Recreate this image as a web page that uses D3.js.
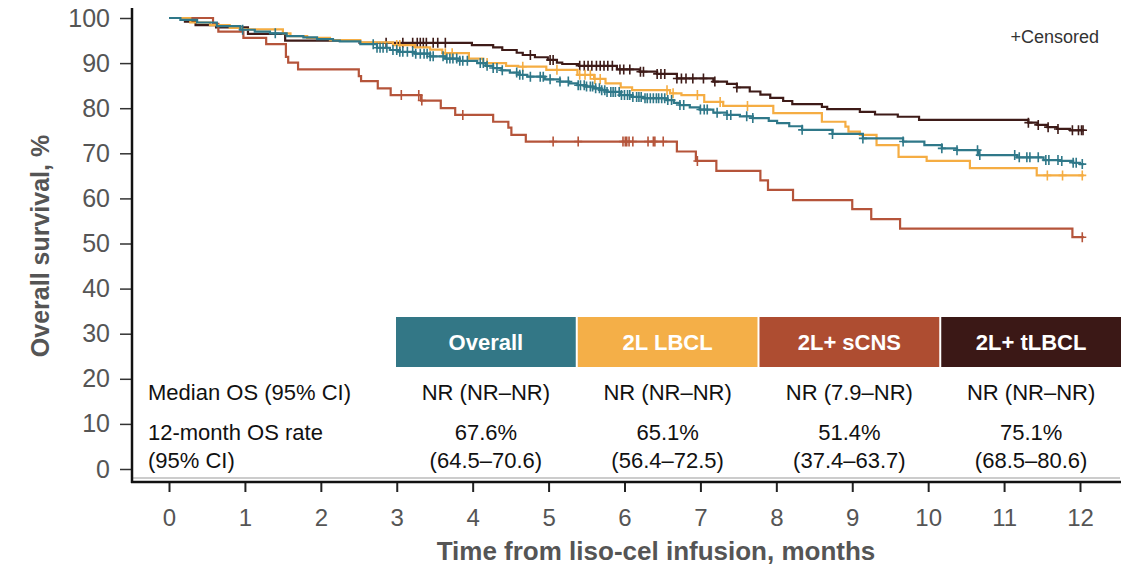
<!DOCTYPE html>
<html>
<head>
<meta charset="utf-8">
<script src="https://cdn.jsdelivr.net/npm/d3@7"></script>
<style>
  body { margin: 0; background: #fff; }
  svg { display: block; font-family: "Liberation Sans", Arial, sans-serif; }
</style>
</head>
<body>
<div id="chart"></div>
<script>
// axis ticks
const months = [0, 1, 2, 3, 4, 5, 6, 7, 8, 9, 10, 11, 12];
const yTicks = [0, 10, 20, 30, 40, 50, 60, 70, 80, 90, 100];

// table
const groups   = ["Overall", "2L LBCL", "2L+ sCNS", "2L+ tLBCL"];
const colors   = ["#337786", "#f4af48", "#ae4d31", "#3b1816"];
const lineCols = ["#2f7889", "#f5ad43", "#b5543a", "#3e1b18"];
const medianOS = ["NR (NR\u2013NR)", "NR (NR\u2013NR)", "NR (7.9\u2013NR)", "NR (NR\u2013NR)"];
const rate12   = ["67.6%", "65.1%", "51.4%", "75.1%"];
const rateCI   = ["(64.5\u201370.6)", "(56.4\u201372.5)", "(37.4\u201363.7)", "(68.5\u201380.6)"];

// KM steps [month, survival %]
const overallSteps = [[0,100],[0.15,99.6],[0.37,99.0],[0.63,98.2],[0.94,97.4],[1.13,97.0],[1.33,96.6],[1.55,96.0],[1.77,95.7],[1.95,95.3],[2.16,95.0],[2.25,94.8],[2.52,94.2],[2.74,93.4],[2.91,92.9],[3.04,92.5],[3.24,92.1],[3.44,91.5],[3.64,91.0],[3.83,90.5],[4.06,90.0],[4.17,89.4],[4.27,88.9],[4.38,88.4],[4.49,87.9],[4.62,87.4],[4.72,87.0],[4.95,86.4],[5.15,85.9],[5.27,85.5],[5.38,85.1],[5.49,84.8],[5.59,84.4],[5.68,84.0],[5.77,83.6],[5.94,82.9],[6.10,82.5],[6.25,82.2],[6.56,81.8],[6.65,81.2],[6.73,80.7],[6.86,80.2],[6.99,79.7],[7.17,79.0],[7.35,78.5],[7.52,78.2],[7.69,77.8],[7.90,77.2],[8.01,76.7],[8.17,76.0],[8.34,75.2],[8.74,74.3],[9.14,73.3],[9.67,72.6],[9.95,71.8],[10.18,71.1],[10.38,70.7],[10.66,69.6],[11.17,69.1],[11.52,68.5],[11.74,68.3],[11.91,67.9],[12.00,67.6]];
const overallCens = [0.97,1.40,2.69,2.74,2.78,2.82,2.87,2.95,3.00,3.04,3.08,3.14,3.21,3.25,3.31,3.36,3.40,3.44,3.48,3.61,3.66,3.70,3.74,3.79,3.83,3.87,3.93,4.10,4.14,4.19,4.27,4.32,4.39,4.58,4.62,4.66,4.76,4.89,4.93,5.02,5.15,5.26,5.39,5.42,5.47,5.50,5.55,5.58,5.62,5.67,5.70,5.74,5.77,5.82,5.85,5.88,5.93,5.96,6.00,6.04,6.07,6.11,6.16,6.19,6.22,6.27,6.30,6.34,6.38,6.42,6.45,6.49,6.53,6.57,6.62,6.73,6.78,7.00,7.05,7.09,7.22,7.35,7.40,7.61,7.69,8.34,8.74,9.14,9.67,10.18,10.38,10.65,10.68,11.14,11.20,11.30,11.34,11.45,11.55,11.59,11.71,11.76,11.91,11.95,12.03];

const lbclSteps = [[0,100],[0.28,99.0],[0.54,98.4],[0.80,97.8],[0.96,97.5],[1.50,96.6],[1.60,96.0],[1.82,95.6],[2.12,95.1],[2.52,94.6],[2.95,94.0],[3.24,93.5],[3.44,93.0],[3.60,92.2],[3.95,91.0],[4.14,90.0],[4.44,89.4],[4.60,89.2],[4.97,88.5],[5.38,87.4],[5.60,86.5],[5.75,85.5],[5.95,84.6],[6.10,84.0],[6.60,83.3],[6.75,82.9],[7.05,81.4],[7.30,80.5],[7.96,78.9],[8.60,77.0],[8.91,75.9],[8.95,74.8],[9.10,74.1],[9.32,71.8],[9.61,69.2],[9.98,68.3],[10.55,66.7],[11.43,65.1]];
const lbclCens = [3.00,3.04,3.64,3.73,4.19,4.66,5.11,5.41,5.48,5.55,5.61,5.68,6.56,6.64,6.96,7.26,7.62,11.57,11.77,12.03];

const scnsSteps = [[0,100],[0.58,98.7],[0.65,97.0],[0.98,95.6],[1.28,94.2],[1.54,91.4],[1.57,90.1],[1.70,88.6],[2.50,87.1],[2.53,86.0],[2.75,84.4],[2.92,82.9],[3.32,81.7],[3.58,80.0],[3.77,78.5],[4.27,77.0],[4.47,75.7],[4.51,74.1],[4.70,72.6],[6.69,70.4],[6.94,68.3],[7.21,66.1],[7.79,64.0],[7.89,61.9],[8.22,59.6],[9.00,57.6],[9.25,55.4],[9.63,53.3],[11.90,51.4]];
const scnsCens = [3.06,3.29,3.33,3.87,5.06,5.39,5.98,6.01,6.03,6.06,6.11,6.31,6.38,6.40,6.51,6.96,12.03];

const tlbclSteps = [[0,100],[0.21,99.2],[0.35,98.4],[0.62,97.9],[1.04,96.5],[1.53,95.0],[2.51,94.5],[3.99,94.0],[4.27,93.5],[4.39,92.9],[4.58,92.3],[4.66,91.8],[4.82,91.3],[4.99,90.7],[5.11,90.1],[5.18,89.8],[5.40,89.4],[5.90,88.6],[6.20,88.1],[6.43,87.6],[6.69,86.6],[7.17,85.9],[7.35,85.4],[7.48,84.6],[7.65,83.7],[7.79,83.0],[7.92,82.3],[8.09,81.6],[8.21,80.9],[8.60,80.3],[8.67,79.8],[9.10,79.2],[9.30,78.6],[9.60,78.1],[9.88,77.4],[11.32,76.8],[11.44,76.3],[11.57,75.8],[11.70,75.4],[11.87,75.1]];
const tlbclCens = [2.86,3.08,3.21,3.27,3.31,3.35,3.39,3.48,3.54,3.64,4.76,5.02,5.06,5.41,5.47,5.52,5.57,5.63,5.68,5.73,5.78,5.84,5.94,5.99,6.07,6.21,6.25,6.43,6.48,6.53,6.69,6.75,6.81,6.90,7.04,7.19,7.48,11.32,11.45,11.58,11.71,11.90,11.98,12.02,12.04];

const endTime = 12.05;

const svg = d3.select("#chart")
  .append("svg")
  .attr("width", 1125)
  .attr("height", 565);

const x = d3.scaleLinear().domain([0, 12]).range([169, 1080]);
const y = d3.scaleLinear().domain([0, 100]).range([469, 18]);

// y axis
const yAxis = svg.append("g")
  .attr("transform", "translate(132,0)")
  .call(d3.axisLeft(y).tickValues(yTicks).tickSize(12).tickSizeOuter(0).tickPadding(10));
yAxis.select(".domain").remove();
yAxis.selectAll("line").attr("stroke", "#333").attr("stroke-width", 1.5);
yAxis.selectAll("text")
  .style("font-size", "25px")
  .attr("fill", "#555");

// x axis
const xAxis = svg.append("g")
  .attr("transform", "translate(0,482)")
  .call(d3.axisBottom(x).tickValues(months).tickSize(10).tickSizeOuter(0).tickPadding(17));
xAxis.select(".domain").remove();
xAxis.selectAll("line").attr("stroke", "#222").attr("stroke-width", 2);
xAxis.selectAll("text")
  .style("font-size", "24px")
  .attr("fill", "#555");

// axis lines
svg.append("line")
  .attr("x1", 132).attr("x2", 1120).attr("y1", 478).attr("y2", 478)
  .attr("stroke", "#999").attr("stroke-width", 1);
svg.append("line")
  .attr("x1", 132).attr("x2", 132).attr("y1", 8).attr("y2", 483)
  .attr("stroke", "#111").attr("stroke-width", 2.5);
svg.append("line")
  .attr("x1", 131).attr("x2", 1121).attr("y1", 482).attr("y2", 482)
  .attr("stroke", "#111").attr("stroke-width", 2.5);

// axis titles
svg.append("text")
  .attr("x", 656).attr("y", 560)
  .attr("text-anchor", "middle")
  .attr("fill", "#555")
  .style("font-size", "26px").style("font-weight", "bold")
  .text("Time from liso-cel infusion, months");

svg.append("text")
  .attr("transform", "translate(49,246) rotate(-90)")
  .attr("text-anchor", "middle")
  .attr("fill", "#555")
  .style("font-size", "25px").style("font-weight", "bold")
  .text("Overall survival, %");

// curves
const series = [
  { steps: tlbclSteps,   cens: tlbclCens,   color: lineCols[3] },
  { steps: scnsSteps,    cens: scnsCens,    color: lineCols[2] },
  { steps: lbclSteps,    cens: lbclCens,    color: lineCols[1] },
  { steps: overallSteps, cens: overallCens, color: lineCols[0] }
];

const line = d3.line()
  .x(d => x(d[0]))
  .y(d => y(d[1]))
  .curve(d3.curveStepAfter);

function survAt(steps, t) {
  let v = steps[0][1];
  steps.forEach(s => { if (s[0] <= t) v = s[1]; });
  return v;
}

series.forEach(s => {
  const pts = s.steps.concat([[endTime, s.steps[s.steps.length - 1][1]]]);
  svg.append("path")
    .datum(pts)
    .attr("fill", "none")
    .attr("stroke", s.color)
    .attr("stroke-width", 2.2)
    .attr("d", line);

  svg.append("g").selectAll("path")
    .data(s.cens)
    .enter()
    .append("path")
      .attr("d", t => {
        const cx = x(t), cy = y(survAt(s.steps, t));
        return `M${cx - 4},${cy}H${cx + 4}M${cx},${cy - 5}V${cy + 5}`;
      })
      .attr("stroke", s.color)
      .attr("stroke-width", 1.6)
      .attr("fill", "none");
});

svg.append("text")
  .attr("x", 1099).attr("y", 43)
  .attr("text-anchor", "end")
  .attr("fill", "#333")
  .style("font-size", "18px")
  .text("+Censored");

// table
const col = d3.scaleBand().domain(groups).range([396, 1121]).paddingInner(0.011);

svg.append("g").selectAll("rect")
  .data(groups)
  .enter()
  .append("rect")
    .attr("x", d => col(d))
    .attr("y", 317)
    .attr("width", col.bandwidth())
    .attr("height", 50)
    .attr("fill", (d, i) => colors[i]);

svg.append("g").selectAll("text")
  .data(groups)
  .enter()
  .append("text")
    .attr("x", d => col(d) + col.bandwidth() / 2)
    .attr("y", 350)
    .attr("text-anchor", "middle")
    .attr("fill", "#fff")
    .style("font-size", "22px").style("font-weight", "bold")
    .text(d => d);

const rowLabels = [
  { text: "Median OS (95% CI)", y: 400 },
  { text: "12-month OS rate", y: 440 },
  { text: "(95% CI)", y: 468 }
];
svg.append("g").selectAll("text")
  .data(rowLabels)
  .enter()
  .append("text")
    .attr("x", 148)
    .attr("y", d => d.y)
    .attr("fill", "#111")
    .style("font-size", "22px")
    .text(d => d.text);

[[medianOS, 400], [rate12, 440], [rateCI, 468]].forEach(([vals, yy]) => {
  svg.append("g").selectAll("text")
    .data(vals)
    .enter()
    .append("text")
      .attr("x", (d, i) => col(groups[i]) + col.bandwidth() / 2)
      .attr("y", yy)
      .attr("text-anchor", "middle")
      .attr("fill", "#111")
      .style("font-size", "22px")
      .text(d => d);
});
</script>
</body>
</html>
